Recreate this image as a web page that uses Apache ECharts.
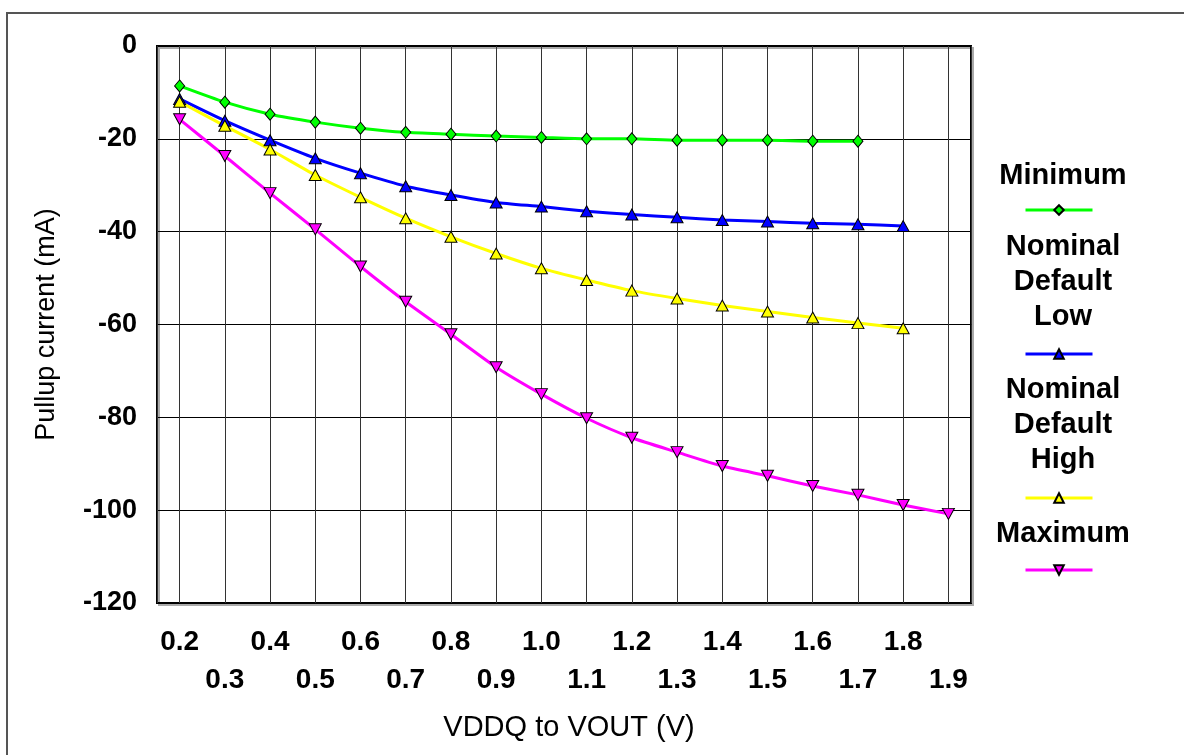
<!DOCTYPE html>
<html>
<head>
<meta charset="utf-8">
<title>Pullup current</title>
<script src="https://cdn.jsdelivr.net/npm/echarts@6/dist/echarts.min.js"></script>
<style>
  html, body { margin: 0; padding: 0; background: #fff; }
  #chart { width: 1184px; height: 755px; }
</style>
</head>
<body>
<div id="chart"></div>
<script>
// x tick labels (V)
var xTicks = ['0.2', '0.3', '0.4', '0.5', '0.6', '0.7', '0.8', '0.9', '1.0',
  '1.1', '1.2', '1.3', '1.4', '1.5', '1.6', '1.7', '1.8', '1.9'];
var seriesNames = ['Minimum', 'Nominal Default Low', 'Nominal Default High', 'Maximum'];
// pullup current (mA)
var minimum = [-8.6, -12.1, -14.7, -16.4, -17.7, -18.6, -19.0, -19.4, -19.7, -20.0,
  -20.0, -20.3, -20.3, -20.3, -20.5, -20.5];
var nominalLow = [-11.4, -16.1, -20.3, -24.2, -27.4, -30.2, -32.1, -33.7, -34.6, -35.6,
  -36.3, -36.9, -37.5, -37.8, -38.2, -38.4, -38.8];
var nominalHigh = [-12.0, -17.2, -22.3, -27.8, -32.6, -37.1, -41.1, -44.7, -47.9, -50.4,
  -52.7, -54.4, -55.9, -57.2, -58.5, -59.7, -60.8];
var maximum = [-15.8, -23.7, -31.7, -39.5, -47.5, -55.1, -62.1, -69.2, -75.0, -80.2,
  -84.4, -87.5, -90.5, -92.6, -94.8, -96.7, -98.9, -100.8];

var FONT = '"Liberation Sans", Arial, sans-serif';

// pair each value with its voltage
function pairs(vals) {
  return vals.map(function (v, i) { return [parseFloat(xTicks[i]), v]; });
}

function makeSeries(name, vals, color, symbol, size, rotate) {
  return {
    name: name,
    type: 'line',
    data: pairs(vals),
    smooth: 0.2,
    symbol: symbol,
    symbolSize: size,
    symbolRotate: rotate || 0,
    showAllSymbol: true,
    lineStyle: { color: color, width: 3 },
    itemStyle: { color: color, borderColor: '#000', borderWidth: 1 }
  };
}

// one legend per series: icon only, text is drawn by the titles above them
function makeLegend(name, top) {
  return {
    data: [name],
    left: 1024,
    top: top,
    padding: 0,
    itemWidth: 67,
    itemHeight: 12,
    lineStyle: { width: 3 },
    formatter: function () { return ''; },
    selectedMode: false
  };
}

function makeTitle(text, top) {
  return {
    text: text,
    left: 1063,
    top: top,
    padding: 0,
    textAlign: 'center',
    textStyle: { fontFamily: FONT, fontSize: 29, fontWeight: 'bold', color: '#000', lineHeight: 35 }
  };
}

var myChart = echarts.init(document.getElementById('chart'));
myChart.setOption({
  animation: false,
  backgroundColor: '#fff',
  title: [
    makeTitle('Minimum', 158),
    makeTitle('Nominal\nDefault\nLow', 229),
    makeTitle('Nominal\nDefault\nHigh', 372),
    makeTitle('Maximum', 516)
  ],
  legend: [
    makeLegend(seriesNames[0], 204),
    makeLegend(seriesNames[1], 348),
    makeLegend(seriesNames[2], 492),
    makeLegend(seriesNames[3], 564)
  ],
  graphic: [{
    type: 'rect',
    z: -10,
    silent: true,
    shape: { x: 7, y: 13, width: 1190, height: 760 },
    style: { fill: null, stroke: '#555', lineWidth: 2 }
  }],
  grid: {
    left: 157,
    top: 46,
    width: 814,
    height: 557,
    show: true,
    backgroundColor: '#fff',
    borderColor: '#000',
    borderWidth: 2,
    shadowColor: '#aaa',
    shadowOffsetX: 2,
    shadowOffsetY: 2,
    shadowBlur: 0
  },
  xAxis: {
    type: 'value',
    min: 0.15,
    max: 1.95,
    splitNumber: 18,
    name: 'VDDQ to VOUT (V)',
    nameLocation: 'middle',
    nameGap: 110,
    nameTextStyle: { fontFamily: FONT, fontSize: 29, color: '#000', padding: [0, 0, 0, 10] },
    axisLine: { show: false },
    axisTick: { show: false },
    splitLine: { show: true, lineStyle: { color: '#333', width: 1 } },
    axisLabel: {
      margin: 20,
      fontFamily: FONT,
      fontSize: 28,
      fontWeight: 'bold',
      color: '#000',
      lineHeight: 38,
      formatter: function (v) {
        var k = Math.round(v * 10);
        if (Math.abs(v * 10 - k) > 1e-6) return '';
        var i = k - 2;
        if (i < 0 || i >= xTicks.length) return '';
        return i % 2 === 0 ? xTicks[i] : '\n' + xTicks[i];
      }
    }
  },
  yAxis: {
    type: 'value',
    min: -120,
    max: 0,
    interval: 20,
    name: 'Pullup current (mA)',
    nameLocation: 'middle',
    nameGap: 97,
    nameTextStyle: { fontFamily: FONT, fontSize: 27, color: '#000' },
    axisLine: { show: false },
    axisTick: { show: false },
    splitLine: { show: true, lineStyle: { color: '#000', width: 1 } },
    axisLabel: {
      margin: 20,
      fontFamily: FONT,
      fontSize: 27,
      fontWeight: 'bold',
      color: '#000'
    }
  },
  series: [
    makeSeries(seriesNames[0], minimum, '#00ff00', 'diamond', [10, 12]),
    makeSeries(seriesNames[1], nominalLow, '#0000ff', 'triangle', [12, 11]),
    makeSeries(seriesNames[2], nominalHigh, '#ffff00', 'triangle', [12, 11]),
    makeSeries(seriesNames[3], maximum, '#ff00ff', 'triangle', [12, 11], 180)
  ]
});
</script>
</body>
</html>
